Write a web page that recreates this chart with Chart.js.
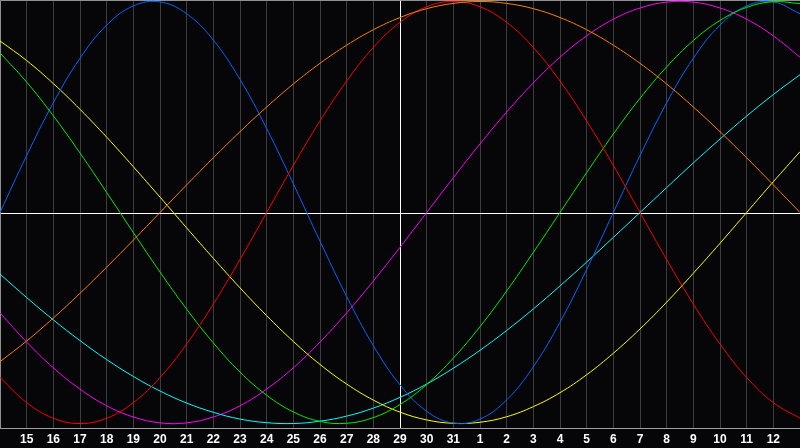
<!DOCTYPE html>
<html>
<head>
<meta charset="utf-8">
<script src="https://cdn.jsdelivr.net/npm/chart.js@4.4.1/dist/chart.umd.min.js"></script>
<style>
  html, body { margin: 0; padding: 0; background: #060608; }
  #wrap { width: 800px; height: 448px; position: relative; }
</style>
</head>
<body>
<div id="wrap"><canvas id="c"></canvas></div>
<script>
const dayLabels = ['14','15','16','17','18','19','20','21','22','23','24','25','26','27','28','29','30','31','1','2','3','4','5','6','7','8','9','10','11','12','13'];
const todayLabel = '29';

const physical = [0, 0.270, 0.520, 0.731, 0.888, 0.979, 0.998, 0.942, 0.817, 0.631, 0.398, 0.136, -0.136, -0.398, -0.631, -0.817, -0.942, -0.998, -0.979, -0.888, -0.731, -0.520, -0.270, 0, 0.270, 0.520, 0.731, 0.888, 0.979, 0.998, 0.942];
const emotional = [-0.782, -0.901, -0.975, -1, -0.975, -0.901, -0.782, -0.623, -0.434, -0.223, 0, 0.223, 0.434, 0.623, 0.782, 0.901, 0.975, 1, 0.975, 0.901, 0.782, 0.623, 0.434, 0.223, 0, -0.223, -0.434, -0.623, -0.782, -0.901, -0.975];
const intellectual = [0.756, 0.618, 0.458, 0.282, 0.095, -0.095, -0.282, -0.458, -0.618, -0.756, -0.866, -0.945, -0.990, -0.999, -0.972, -0.910, -0.815, -0.690, -0.541, -0.372, -0.189, 0, 0.189, 0.372, 0.541, 0.690, 0.815, 0.910, 0.972, 0.999, 0.990];
const awareness = [-0.707, -0.609, -0.5, -0.383, -0.259, -0.131, 0, 0.131, 0.259, 0.383, 0.5, 0.609, 0.707, 0.793, 0.866, 0.924, 0.966, 0.991, 1, 0.991, 0.966, 0.924, 0.866, 0.793, 0.707, 0.609, 0.5, 0.383, 0.259, 0.131, 0];
const aesthetic = [0.813, 0.720, 0.611, 0.489, 0.357, 0.217, 0.073, -0.073, -0.217, -0.357, -0.489, -0.611, -0.720, -0.813, -0.889, -0.946, -0.983, -0.999, -0.994, -0.968, -0.920, -0.854, -0.769, -0.667, -0.552, -0.425, -0.288, -0.146, 0, 0.146, 0.288];
const spiritual = [-0.292, -0.403, -0.509, -0.607, -0.697, -0.777, -0.846, -0.903, -0.947, -0.979, -0.996, -1.000, -0.989, -0.965, -0.927, -0.876, -0.813, -0.738, -0.653, -0.559, -0.457, -0.348, -0.235, -0.118, 0, 0.118, 0.235, 0.348, 0.457, 0.559, 0.653];
const intuitive = [-0.476, -0.614, -0.736, -0.837, -0.916, -0.969, -0.997, -0.997, -0.969, -0.916, -0.837, -0.736, -0.614, -0.476, -0.325, -0.165, 0, 0.165, 0.325, 0.476, 0.614, 0.736, 0.837, 0.916, 0.969, 0.997, 0.997, 0.969, 0.916, 0.837, 0.736];

const series = [
  { label: 'Awareness', data: awareness, color: '#ff8000' },
  { label: 'Emotional', data: emotional, color: '#ff0000' },
  { label: 'Intellectual', data: intellectual, color: '#00ee00' },
  { label: 'Physical', data: physical, color: '#0066ff' },
  { label: 'Aesthetic', data: aesthetic, color: '#ffff00' },
  { label: 'Spiritual', data: spiritual, color: '#00ffff' },
  { label: 'Intuitive', data: intuitive, color: '#ff00ff' }
];

const framePlugin = {
  id: 'frame',
  beforeDatasetsDraw(chart) {
    const { ctx, chartArea: a, scales } = chart;
    ctx.save();
    ctx.lineWidth = 1;
    ctx.strokeStyle = '#ffffff';
    const y0 = Math.round(scales.y.getPixelForValue(0)) + 0.5;
    ctx.beginPath(); ctx.moveTo(a.left, y0); ctx.lineTo(a.right, y0); ctx.stroke();
    const xi = dayLabels.indexOf(todayLabel);
    const x0 = Math.round(scales.x.getPixelForValue(xi)) + 0.5;
    ctx.beginPath(); ctx.moveTo(x0, a.top); ctx.lineTo(x0, a.bottom); ctx.stroke();
    ctx.strokeStyle = '#909090';
    ctx.beginPath(); ctx.moveTo(a.left + 0.5, a.bottom); ctx.lineTo(a.left + 0.5, a.top + 0.5); ctx.lineTo(a.right, a.top + 0.5); ctx.stroke();
    ctx.restore();
  }
};

new Chart(document.getElementById('c'), {
  type: 'line',
  data: {
    labels: dayLabels,
    datasets: series.map(s => ({
      label: s.label,
      data: s.data,
      borderColor: s.color,
      borderWidth: 1,
      pointRadius: 0,
      tension: 0.4,
      fill: false
    }))
  },
  options: {
    responsive: true,
    maintainAspectRatio: false,
    animation: false,
    layout: { padding: 0 },
    plugins: { legend: { display: false }, tooltip: { enabled: false } },
    scales: {
      x: {
        type: 'category',
        offset: false,
        grid: { color: '#3d3d3d', lineWidth: 1, drawTicks: false },
        border: { display: true, color: '#a0a0a0', width: 1 },
        ticks: {
          color: '#ffffff',
          font: { family: 'Liberation Sans', size: 12, weight: 'bold' },
          autoSkip: false,
          maxRotation: 0,
          minRotation: 0,
          padding: 4,
          callback: function(v, i) { return (i === 0 || i === dayLabels.length - 1) ? '' : dayLabels[i]; }
        },
        afterFit: function(scale) {
          scale.height = 20;
          scale.paddingLeft = 0;
          scale.paddingRight = 0;
        }
      },
      y: {
        display: false,
        min: -1.0213,
        max: 1.0071
      }
    }
  },
  plugins: [framePlugin]
});
</script>
</body>
</html>
